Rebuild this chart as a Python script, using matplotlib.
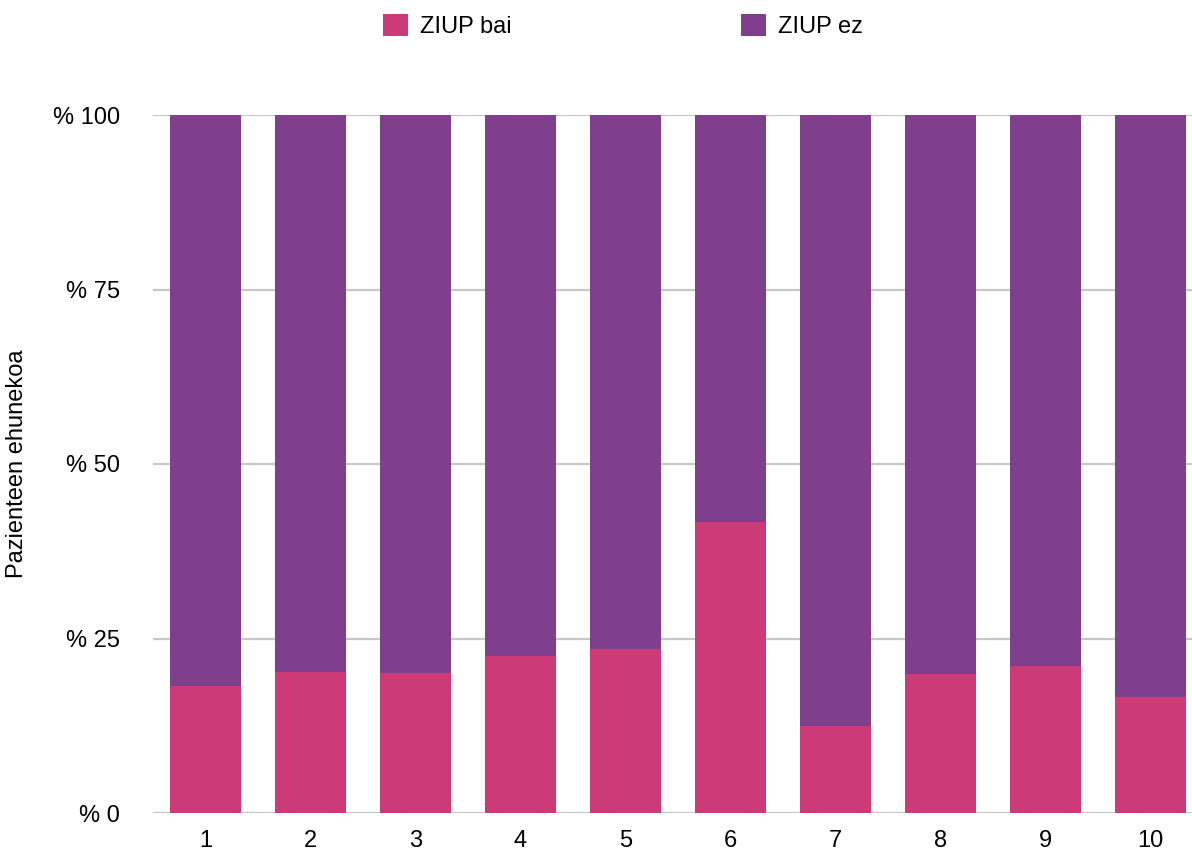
import numpy as np
import matplotlib
matplotlib.use("Agg")
from matplotlib import pyplot as plt

plt.rcParams['font.family'] = ['Liberation Sans', 'DejaVu Sans']

groups = ['1', '2', '3', '4', '5', '6', '7', '8', '9', '10']
ziup_bai = [18.2, 20.2, 20.1, 22.5, 23.5, 41.7, 12.5, 19.9, 21.1, 16.6]
ziup_ez = [100 - v for v in ziup_bai]
y_ticks = [0, 25, 50, 75, 100]
y_labels = ['% ' + str(t) for t in y_ticks]

pink = '#cc3a78'
purple = '#7f3f8c'
fs = 17

fig = plt.figure(figsize=(11.92, 8.52), dpi=100)
ax = fig.add_axes([153 / 1192, 1 - 813 / 852, 1 - 153 / 1192, (813 - 115) / 852])

x = np.arange(len(groups))
b1 = ax.bar(x, ziup_bai, width=0.676, color=pink, label='ZIUP bai', zorder=3)
b2 = ax.bar(x, ziup_ez, width=0.676, bottom=ziup_bai, color=purple, label='ZIUP ez', zorder=3)

ax.set_xlim(-0.5, 9.395)
ax.set_ylim(0, 100)
ax.set_yticks(y_ticks)
ax.set_yticklabels(y_labels, fontsize=fs)
ax.set_xticks(x)
ax.set_xticklabels(groups, fontsize=fs)
ax.tick_params(axis='x', length=0, pad=12)
ax.tick_params(axis='y', length=0, pad=24)
ax.yaxis.grid(True, color='#c8c8c8', linewidth=1.6, zorder=0)
ax.xaxis.grid(False)
for s in ax.spines.values():
    s.set_visible(False)
ax.set_ylabel('Pazienteen ehunekoa', fontsize=fs)
ax.yaxis.set_label_coords(-0.12, 0.5)

fig.legend(handles=[b1, b2], loc='upper left', bbox_to_anchor=(383 / 1192, 1 - 14 / 852),
           ncol=2, frameon=False, fontsize=fs, handlelength=1.05, handleheight=1.05,
           handletextpad=0.5, columnspacing=9.75, borderpad=0, borderaxespad=0)

fig.savefig('out.png', dpi=100)
